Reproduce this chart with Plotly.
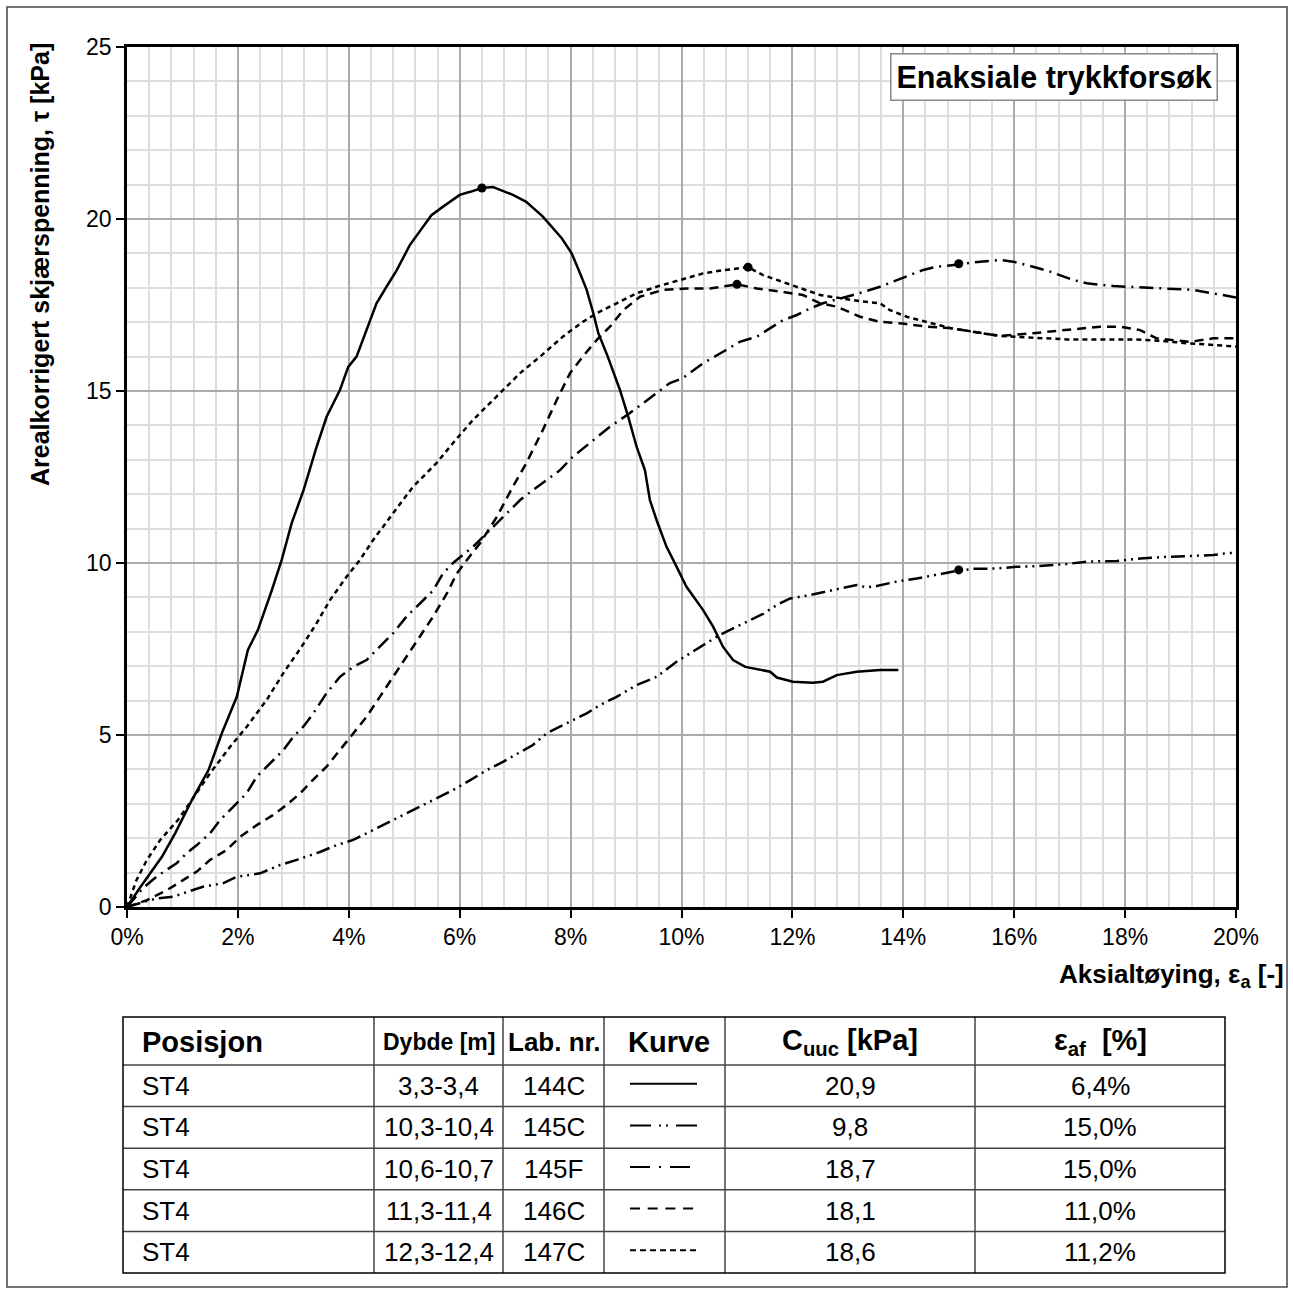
import plotly.graph_objects as go

# ---------------- data ----------------
x_144C = [0, 0.23, 0.63, 0.87, 1.17, 1.47, 1.71, 1.98, 2.18, 2.36, 2.61, 2.79, 2.97, 3.18, 3.42, 3.6, 3.84, 3.99,
          4.14, 4.32, 4.5, 4.68, 4.86, 5.1, 5.34, 5.49, 5.7, 6.0, 6.19, 6.4, 6.6, 6.96, 7.2, 7.5, 7.84, 8.02, 8.17,
          8.29, 8.41, 8.5, 8.67, 8.89, 9.04, 9.19, 9.34, 9.43, 9.55, 9.73, 9.85, 10.09, 10.39, 10.57, 10.75, 10.93,
          11.15, 11.42, 11.6, 11.72, 12.01, 12.37, 12.55, 12.8, 13.16, 13.58, 13.91]
y_144C = [0, 0.55, 1.46, 2.15, 3.11, 3.98, 5.05, 6.11, 7.47, 8.05, 9.2, 10.09, 11.16, 12.1, 13.38, 14.25, 15.03, 15.7,
          16.0, 16.77, 17.55, 18.03, 18.5, 19.24, 19.78, 20.11, 20.36, 20.7, 20.79, 20.9, 20.93, 20.7, 20.5, 20.07,
          19.44, 19.0, 18.42, 17.94, 17.26, 16.68, 16.0, 15.03, 14.25, 13.38, 12.7, 11.83, 11.25, 10.47, 10.09, 9.31,
          8.63, 8.15, 7.56, 7.18, 6.98, 6.89, 6.84, 6.67, 6.55, 6.52, 6.55, 6.74, 6.84, 6.89, 6.89]

x_145C = [0, 0.23, 0.53, 0.83, 1.08, 1.37, 1.73, 1.98, 2.4, 2.76, 3.06, 3.48, 3.78, 4.08, 4.38, 4.68, 4.98, 5.28,
          5.58, 5.88, 6.19, 6.49, 6.78, 7.09, 7.32, 7.57, 7.93, 8.29, 8.53, 8.83, 9.19, 9.55, 9.91, 10.15, 10.45,
          10.69, 11.11, 11.48, 11.72, 11.96, 12.32, 12.56, 12.86, 13.16, 13.34, 13.52, 13.88, 14.24, 14.6, 15.0,
          15.26, 15.68, 16.04, 16.4, 16.95, 17.31, 17.85, 18.27, 18.75, 19.23, 19.59, 19.8, 20.0]
y_145C = [0, 0.1, 0.25, 0.3, 0.44, 0.59, 0.69, 0.88, 0.98, 1.22, 1.37, 1.6, 1.8, 1.95, 2.19, 2.43, 2.67, 2.92, 3.16,
          3.4, 3.69, 3.98, 4.22, 4.51, 4.71, 5.05, 5.34, 5.63, 5.87, 6.11, 6.45, 6.69, 7.13, 7.37, 7.66, 7.91, 8.24,
          8.53, 8.78, 8.97, 9.07, 9.16, 9.26, 9.36, 9.29, 9.33, 9.46, 9.55, 9.65, 9.78, 9.83, 9.84, 9.89, 9.91, 9.97,
          10.04, 10.06, 10.13, 10.18, 10.2, 10.23, 10.28, 10.3]

x_145F = [0, 0.29, 0.53, 0.72, 0.9, 1.08, 1.26, 1.5, 1.68, 1.92, 2.16, 2.34, 2.58, 2.82, 3.0, 3.18, 3.36, 3.6, 3.84,
          4.08, 4.32, 4.56, 4.8, 5.04, 5.28, 5.52, 5.7, 5.88, 6.24, 6.55, 6.78, 7.09, 7.32, 7.5, 7.81, 8.04, 8.35,
          8.71, 9.07, 9.31, 9.55, 9.79, 10.03, 10.39, 10.75, 11.05, 11.36, 11.65, 11.83, 12.08, 12.32, 12.55, 12.91,
          13.22, 13.58, 13.88, 14.12, 14.36, 14.6, 15.0, 15.26, 15.74, 15.98, 16.34, 16.65, 17.06, 17.31, 17.79,
          18.27, 18.63, 19.22, 19.65, 20.0]
y_145F = [0, 0.55, 0.88, 1.08, 1.28, 1.57, 1.8, 2.15, 2.53, 2.92, 3.31, 3.79, 4.19, 4.56, 4.95, 5.24, 5.63, 6.22,
          6.69, 6.98, 7.18, 7.56, 7.96, 8.44, 8.83, 9.2, 9.7, 10.0, 10.47, 10.96, 11.34, 11.83, 12.12, 12.33, 12.7,
          13.09, 13.49, 13.96, 14.36, 14.65, 14.94, 15.23, 15.38, 15.81, 16.14, 16.43, 16.58, 16.87, 17.06, 17.21,
          17.4, 17.55, 17.7, 17.85, 18.03, 18.23, 18.37, 18.52, 18.61, 18.68, 18.74, 18.81, 18.76, 18.61, 18.47,
          18.23, 18.13, 18.05, 18.01, 17.98, 17.94, 17.82, 17.72]

x_146C = [0, 0.36, 0.72, 1.01, 1.26, 1.5, 1.8, 2.04, 2.34, 2.63, 2.88, 3.12, 3.35, 3.6, 3.84, 4.08, 4.32, 4.56, 4.8,
          5.04, 5.28, 5.52, 5.77, 5.95, 6.13, 6.37, 6.67, 6.96, 7.2, 7.5, 7.75, 7.99, 8.22, 8.47, 8.71, 8.95, 9.25,
          9.67, 10.09, 10.51, 11.0, 11.36, 11.83, 12.19, 12.5, 12.8, 13.22, 13.58, 13.99, 14.42, 14.84, 15.74, 16.34,
          16.95, 17.55, 17.91, 18.27, 18.57, 19.17, 19.59, 20.0]
y_146C = [0, 0.2, 0.49, 0.78, 1.03, 1.37, 1.66, 2.04, 2.38, 2.67, 2.97, 3.3, 3.69, 4.08, 4.56, 5.05, 5.53, 6.11, 6.69,
          7.27, 7.86, 8.44, 9.12, 9.7, 10.09, 10.58, 11.34, 12.22, 12.9, 13.87, 14.74, 15.52, 16.0, 16.48, 16.87,
          17.35, 17.74, 17.94, 17.98, 17.98, 18.1, 17.98, 17.88, 17.79, 17.55, 17.45, 17.16, 17.01, 16.96, 16.87,
          16.83, 16.6, 16.68, 16.77, 16.87, 16.87, 16.77, 16.53, 16.43, 16.53, 16.53]

x_147C = [0, 0.17, 0.36, 0.6, 0.92, 1.17, 1.5, 1.86, 2.16, 2.52, 2.82, 3.15, 3.42, 3.66, 3.96, 4.2, 4.44, 4.8, 5.16,
          5.58, 5.88, 6.24, 6.73, 7.09, 7.45, 7.86, 8.22, 8.47, 8.83, 9.19, 9.55, 9.97, 10.39, 10.75, 11.2, 11.47,
          11.72, 12.08, 12.5, 12.86, 13.27, 13.58, 13.76, 14.06, 14.48, 14.84, 15.74, 16.34, 16.95, 17.55, 18.14,
          18.63, 19.17, 19.59, 20.0]
y_147C = [0, 0.78, 1.37, 1.95, 2.53, 3.11, 3.89, 4.66, 5.24, 6.02, 6.8, 7.57, 8.25, 8.92, 9.6, 10.09, 10.67, 11.45,
          12.22, 12.9, 13.49, 14.16, 14.94, 15.52, 16.0, 16.58, 17.01, 17.26, 17.55, 17.84, 18.03, 18.23, 18.42,
          18.51, 18.6, 18.37, 18.23, 18.03, 17.79, 17.7, 17.6, 17.55, 17.35, 17.16, 16.98, 16.83, 16.6, 16.56, 16.5,
          16.5, 16.5, 16.46, 16.38, 16.34, 16.29]

posisjon = ["ST4", "ST4", "ST4", "ST4", "ST4"]
dybde = ["3,3-3,4", "10,3-10,4", "10,6-10,7", "11,3-11,4", "12,3-12,4"]
lab_nr = ["144C", "145C", "145F", "146C", "147C"]
c_uuc = [20.9, 9.8, 18.7, 18.1, 18.6]
eps_af = [6.4, 15.0, 15.0, 11.0, 11.2]

x_ticks = [0, 2, 4, 6, 8, 10, 12, 14, 16, 18, 20]
y_ticks = [0, 5, 10, 15, 20, 25]

# ---------------- styling ----------------
FONT = "Liberation Sans, Arial, sans-serif"
curves = [
    (x_144C, y_144C, "solid"),
    (x_145C, y_145C, "14px,5px,2px,5px,2px,5px"),
    (x_145F, y_145F, "14px,6px,2px,6px"),
    (x_146C, y_146C, "9px,6px"),
    (x_147C, y_147C, "5px,4px"),
]
sample_dash = ["solid", "21px,8px,2px,5px,2px,8px,21px,60px", "20px,9px,2px,9px,20px,60px",
               "10px,7.7px", "6px,4px"]

L, R, T, B = 127, 1236, 47, 907
W, H = R - L, B - T


def px(x):
    return (x - L) / W


def py(y):
    return (B - y) / H


fig = go.Figure()
for xs, ys, dash in curves:
    fig.add_trace(go.Scatter(x=xs, y=ys, mode="lines",
                             line=dict(color="black", width=2.5, dash=dash),
                             showlegend=False, hoverinfo="skip"))
fig.add_trace(go.Scatter(x=eps_af, y=c_uuc, mode="markers",
                         marker=dict(color="black", size=9), showlegend=False))

axis_common = dict(showline=True, mirror=True, linecolor="black", linewidth=2.5,
                   ticks="outside", ticklen=8, tickwidth=2, tickcolor="black",
                   showgrid=True, gridcolor="#ababab", gridwidth=1.5, zeroline=False,
                   tickfont=dict(family=FONT, size=23, color="black"))
fig.update_xaxes(range=[0, 20], tickvals=x_ticks, ticktext=[f"{v}%" for v in x_ticks],
                 minor=dict(dtick=0.4, showgrid=True, gridcolor="#dedede", gridwidth=1.5, ticks=""),
                 **axis_common)
fig.update_yaxes(range=[0, 25], tickvals=y_ticks,
                 minor=dict(dtick=1, showgrid=True, gridcolor="#dedede", gridwidth=1.5, ticks=""),
                 **axis_common)

shapes = []
# outer frame
shapes.append(dict(type="rect", xref="paper", yref="paper", x0=px(7), x1=px(1287), y0=py(7), y1=py(1287),
                   line=dict(color="#444", width=1.5)))
# table
col_x = [123, 374, 503, 604, 725, 975, 1225]
row_y = [1017, 1065] + [1065 + 41.6 * (i + 1) for i in range(5)]
for yy in row_y[1:-1]:
    shapes.append(dict(type="line", xref="paper", yref="paper", x0=px(col_x[0]), x1=px(col_x[-1]),
                       y0=py(yy), y1=py(yy), line=dict(color="#444", width=1.5)))
for xx in col_x[1:-1]:
    shapes.append(dict(type="line", xref="paper", yref="paper", x0=px(xx), x1=px(xx),
                       y0=py(row_y[0]), y1=py(row_y[-1]), line=dict(color="#444", width=1.5)))
shapes.append(dict(type="rect", xref="paper", yref="paper", x0=px(col_x[0]), x1=px(col_x[-1]),
                   y0=py(row_y[0]), y1=py(row_y[-1]), line=dict(color="black", width=1.5)))

annotations = []
# sample lines + table texts
for i in range(5):
    yc = (row_y[i + 1] + row_y[i + 2]) / 2
    shapes.append(dict(type="line", xref="paper", yref="paper", x0=px(630), x1=px(697),
                       y0=py(yc - 2), y1=py(yc - 2), line=dict(color="black", width=2, dash=sample_dash[i])))
    cells = [
        (posisjon[i], 140, "left"),
        (dybde[i], (col_x[1] + col_x[2]) / 2, "center"),
        (lab_nr[i], (col_x[2] + col_x[3]) / 2, "center"),
        (f"{c_uuc[i]:.1f}".replace(".", ","), (col_x[4] + col_x[5]) / 2, "center"),
        (f"{eps_af[i]:.1f}%".replace(".", ","), (col_x[5] + col_x[6]) / 2, "center"),
    ]
    for txt, xx, anc in cells:
        annotations.append(dict(text=txt, xref="paper", yref="paper", x=px(xx), y=py(yc), xanchor=anc,
                                yanchor="middle", showarrow=False, font=dict(family=FONT, size=26, color="black")))

hy = (row_y[0] + row_y[1]) / 2
headers = [
    ("<b>Posisjon</b>", 140, "left", 29),
    ("<b>Dybde [m]</b>", (col_x[1] + col_x[2]) / 2, "center", 23),
    ("<b>Lab. nr.</b>", (col_x[2] + col_x[3]) / 2, "center", 26),
    ("<b>Kurve</b>", (col_x[3] + col_x[4]) / 2 + 4, "center", 29),
    ("<b>C<sub>uuc</sub> [kPa]</b>", (col_x[4] + col_x[5]) / 2, "center", 29),
    ("<b>ε<sub>af</sub>  [%]</b>", (col_x[5] + col_x[6]) / 2, "center", 29),
]
for txt, xx, anc, fs in headers:
    annotations.append(dict(text=txt, xref="paper", yref="paper", x=px(xx), y=py(hy + 1), xanchor=anc,
                            yanchor="middle", showarrow=False, font=dict(family=FONT, size=fs, color="black")))

# title box
annotations.append(dict(text="<b>Enaksiale trykkforsøk</b>", xref="paper", yref="paper", x=px(1218), y=py(53),
                        xanchor="right", yanchor="top", showarrow=False, bgcolor="white",
                        bordercolor="#888", borderwidth=1.5, borderpad=5,
                        font=dict(family=FONT, size=30.5, color="black")))
# axis titles
annotations.append(dict(text="<b>Arealkorrigert skjærspenning, τ [kPa]</b>", xref="paper", yref="paper",
                        x=px(40), y=py(265), xanchor="center", yanchor="middle", textangle=-90, showarrow=False,
                        font=dict(family=FONT, size=25, color="black")))
annotations.append(dict(text="<b>Aksialtøying, ε<sub>a</sub> [-]</b>", xref="paper", yref="paper",
                        x=px(1286), y=py(975), xanchor="right", yanchor="middle", showarrow=False,
                        font=dict(family=FONT, size=26, color="black")))

fig.update_layout(width=1293, height=1293, margin=dict(l=L, r=1293 - R, t=T, b=1293 - B),
                  paper_bgcolor="white", plot_bgcolor="white", shapes=shapes, annotations=annotations,
                  font=dict(family=FONT, color="black"))

fig.write_html("out.html")
